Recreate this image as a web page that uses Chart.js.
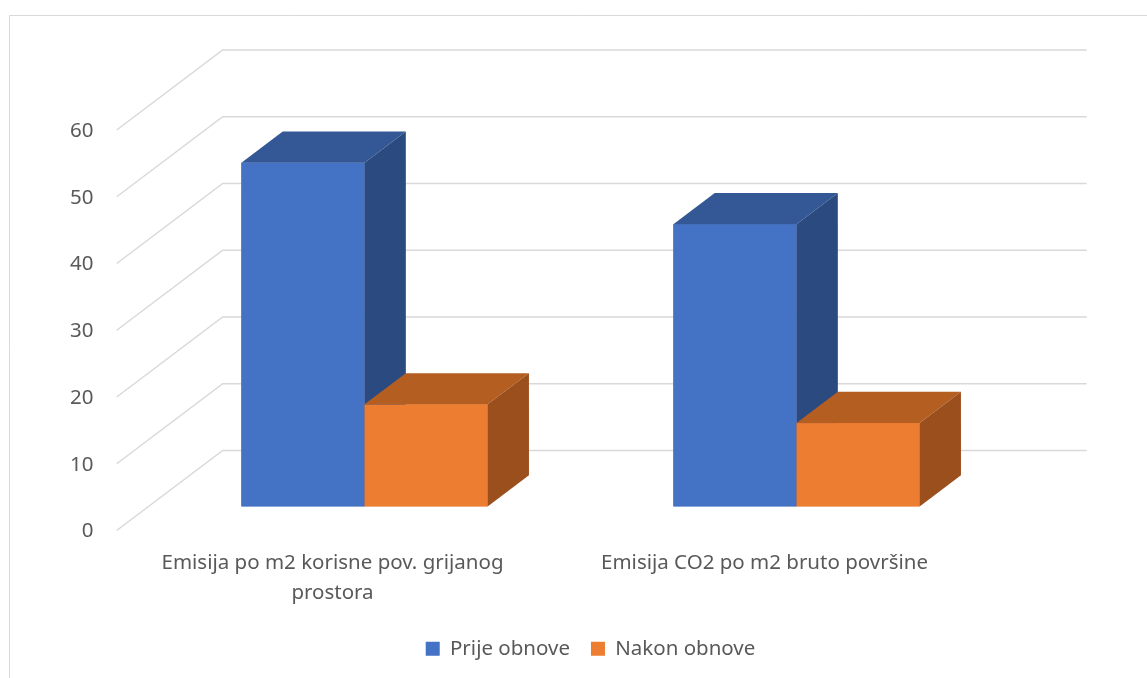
<!DOCTYPE html>
<html>
<head>
<meta charset="utf-8">
<script src="https://cdn.jsdelivr.net/npm/chart.js@4/dist/chart.umd.min.js"></script>
<style>
  body { margin: 0; background: #fff; }
  #wrap { width: 1147px; height: 678px; }
</style>
</head>
<body>
<div id="wrap"><canvas id="canvas" width="1147" height="678"></canvas></div>
<script>
// data
const categories = [
    ['Emisija po m2 korisne pov. grijanog', 'prostora'],
    ['Emisija CO2 po m2 bruto površine']
];
const seriesNames = ['Prije obnove', 'Nakon obnove'];
const prijeObnove = [51.5, 42.3];
const nakonObnove = [15.3, 12.5];
const yMin = 0, yMax = 60, yStep = 10;

const frontColors = ['#4472c4', '#ed7d31'];
const topColors = ['#345895', '#b55e22'];
const sideColors = ['#2b4a80', '#9a4f1d'];

// oblique depth: full depth vector, planes relative to bar front plane
const DEPTH_X = 106, DEPTH_Y = -80;
const FRONT_F = -0.3, BACK_F = 0.7, BAR_F = 0.39;
const textColor = '#595959';
const gridColor = '#d9d9d9';
const fontFamily = '"Noto Sans", "Open Sans", sans-serif';

function drawBox(ctx, p, i) {
    const dx = BAR_F * DEPTH_X, dy = BAR_F * DEPTH_Y;
    const l = p.x - p.width / 2, r = p.x + p.width / 2;
    // front
    ctx.fillStyle = frontColors[i];
    ctx.fillRect(l, p.y, r - l, p.base - p.y);
    // top
    ctx.fillStyle = topColors[i];
    ctx.beginPath();
    ctx.moveTo(l, p.y);
    ctx.lineTo(l + dx, p.y + dy);
    ctx.lineTo(r + dx, p.y + dy);
    ctx.lineTo(r, p.y);
    ctx.closePath();
    ctx.fill();
    // side
    ctx.fillStyle = sideColors[i];
    ctx.beginPath();
    ctx.moveTo(r, p.y);
    ctx.lineTo(r + dx, p.y + dy);
    ctx.lineTo(r + dx, p.base + dy);
    ctx.lineTo(r, p.base);
    ctx.closePath();
    ctx.fill();
}

const depth3d = {
    id: 'depth3d',
    afterLayout(chart) {
        // legend sits a bit right of the plot centre in the original
        chart.legend.left += 10;
        chart.legend.right += 10;
    },
    beforeDraw(chart) {
        const ctx = chart.ctx;
        ctx.save();
        ctx.strokeStyle = gridColor;
        ctx.lineWidth = 1;
        ctx.beginPath();
        ctx.moveTo(9.5, 678);
        ctx.lineTo(9.5, 15.5);
        ctx.lineTo(1147, 15.5);
        ctx.stroke();
        ctx.restore();
    },
    beforeDatasetsDraw(chart) {
        const ctx = chart.ctx;
        const y = chart.scales.y;
        const area = chart.chartArea;
        ctx.save();
        ctx.strokeStyle = gridColor;
        ctx.lineWidth = 1.5;
        y.ticks.forEach(t => {
            const py = y.getPixelForValue(t.value);
            const fx = area.left + FRONT_F * DEPTH_X, fy = py + FRONT_F * DEPTH_Y;
            const bx = area.left + BACK_F * DEPTH_X, by = py + BACK_F * DEPTH_Y;
            const rx = area.right + BACK_F * DEPTH_X;
            ctx.beginPath();
            ctx.moveTo(fx, fy);
            ctx.lineTo(bx, by);
            ctx.lineTo(rx, by);
            ctx.stroke();
        });
        ctx.restore();
    },
    afterDatasetsDraw(chart) {
        const ctx = chart.ctx;
        ctx.save();
        // draw in dataset order so the later series sits in front
        chart.data.datasets.forEach((ds, i) => {
            chart.getDatasetMeta(i).data.forEach(bar => {
                drawBox(ctx, bar.getProps(['x', 'y', 'base', 'width'], true), i);
            });
        });
        ctx.restore();
    }
};

const ctx = document.getElementById('canvas').getContext('2d');
const myChart = new Chart(ctx, {
    type: 'bar',
    data: {
        labels: categories,
        datasets: [{
            label: seriesNames[0],
            data: prijeObnove,
            backgroundColor: frontColors[0],
            borderWidth: 0,
            categoryPercentage: 0.57,
            barPercentage: 1.0
        }, {
            label: seriesNames[1],
            data: nakonObnove,
            backgroundColor: frontColors[1],
            borderWidth: 0,
            categoryPercentage: 0.57,
            barPercentage: 1.0
        }]
    },
    options: {
        responsive: false,
        animation: false,
        devicePixelRatio: 1,
        layout: { padding: { top: 106, right: 134.5, bottom: 9, left: 0 } },
        scales: {
            x: {
                grid: { display: false },
                border: { display: false },
                ticks: {
                    color: textColor,
                    font: { family: fontFamily, size: 20.5, lineHeight: 1.46 },
                    padding: 34,
                    labelOffset: -32,
                    maxRotation: 0,
                    autoSkip: false
                },
                afterFit(s) {
                    s.height = 111;
                    s.paddingLeft = 0;
                    s.paddingRight = 0;
                }
            },
            y: {
                min: yMin,
                max: yMax,
                grid: { display: false },
                border: { display: false },
                ticks: {
                    stepSize: yStep,
                    color: textColor,
                    font: { family: fontFamily, size: 20.5 },
                    padding: 47,
                    labelOffset: 25
                },
                afterFit(s) {
                    s.width = 148.5;
                    s.paddingTop = 0;
                    s.paddingBottom = 0;
                }
            }
        },
        plugins: {
            legend: {
                position: 'bottom',
                fullSize: false,
                labels: {
                    color: textColor,
                    font: { family: fontFamily, size: 20.5 },
                    boxWidth: 14,
                    boxHeight: 14,
                    padding: 21
                }
            },
            tooltip: { enabled: false }
        }
    },
    plugins: [depth3d]
});
</script>
</body>
</html>
